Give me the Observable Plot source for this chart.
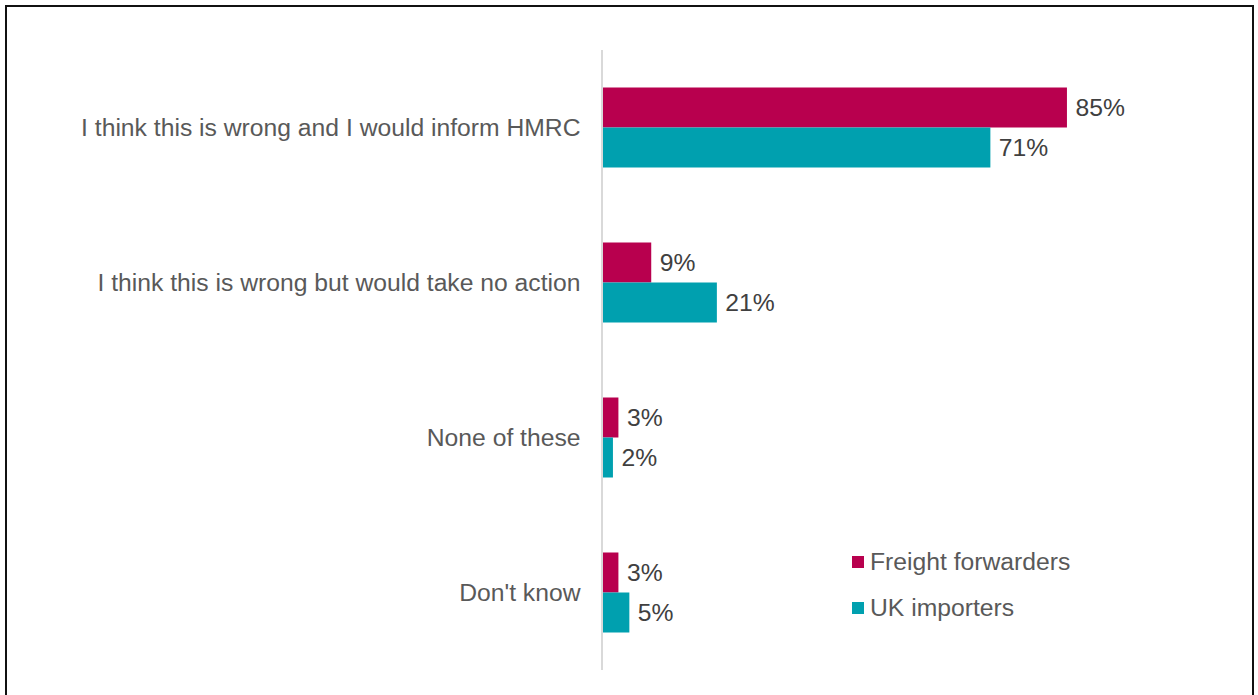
<!DOCTYPE html>
<html>
<head>
<meta charset="utf-8">
<script src="https://cdn.jsdelivr.net/npm/d3@7"></script>
<script src="https://cdn.jsdelivr.net/npm/@observablehq/plot@0.6"></script>
<style>
  html, body { margin: 0; padding: 0; background: #fff; overflow: hidden; }
  body { width: 1258px; height: 695px; position: relative; font-family: "Liberation Sans", Arial, sans-serif; }
  #frame { position: absolute; left: 5px; top: 5px; width: 1245px; height: 720px; border: 2px solid #111; box-sizing: content-box; }
  #chart { position: absolute; left: 0; top: 0; }
  #legend { position: absolute; left: 852px; top: 546px; font-size: 24.7px; color: #595959; }
  #legend .item { display: flex; align-items: center; height: 32px; margin-bottom: 14px; }
  #legend .sw { width: 12px; height: 12px; margin-right: 6px; }
</style>
</head>
<body>
<div id="frame"></div>
<div id="chart"></div>
<div id="legend"></div>
<script>
const categories = [
  "I think this is wrong and I would inform HMRC",
  "I think this is wrong but would take no action",
  "None of these",
  "Don't know"
];
const seriesNames = ["Freight forwarders", "UK importers"];
const freightForwarders = [85, 9, 3, 3];
const ukImporters = [71, 21, 2, 5];
const colors = ["#B8004E", "#00A0AF"];

const freight = categories.map((c, i) => ({category: c, value: freightForwarders[i]}));
const uk = categories.map((c, i) => ({category: c, value: ukImporters[i]}));

const font = "'Liberation Sans', Arial, sans-serif";
const fs = 24.7;
const chart = Plot.plot({
  width: 1258,
  height: 695,
  marginTop: 50,
  marginBottom: 25,
  marginLeft: 602,
  marginRight: 109,
  style: {fontFamily: font, fontSize: fs + "px", background: "transparent"},
  x: {domain: [0, 100], axis: null},
  y: {domain: categories, padding: 0},
  marks: [
    Plot.barX(freight, {x: "value", y: "category", fill: colors[0], insetTop: 37.5, insetBottom: 77.5}),
    Plot.barX(uk, {x: "value", y: "category", fill: colors[1], insetTop: 77.5, insetBottom: 37.5}),
    Plot.ruleX([0], {stroke: "#d9d9d9", strokeWidth: 2, dx: -0.5}),
    Plot.text(freight, {x: "value", y: "category", text: d => d.value + "%", dx: 8, dy: -20, textAnchor: "start", fill: "#404040", fontSize: fs}),
    Plot.text(uk, {x: "value", y: "category", text: d => d.value + "%", dx: 8, dy: 20, textAnchor: "start", fill: "#404040", fontSize: fs}),
    Plot.axisY({tickSize: 0, tickPadding: 22, fill: "#595959", fontSize: fs, label: null})
  ]
});
document.getElementById("chart").appendChild(chart);

const legend = document.getElementById("legend");
seriesNames.forEach((name, i) => {
  const item = document.createElement("div");
  item.className = "item";
  const sw = document.createElement("span");
  sw.className = "sw";
  sw.style.background = colors[i];
  const label = document.createElement("span");
  label.textContent = name;
  item.appendChild(sw);
  item.appendChild(label);
  legend.appendChild(item);
});
</script>
</body>
</html>
